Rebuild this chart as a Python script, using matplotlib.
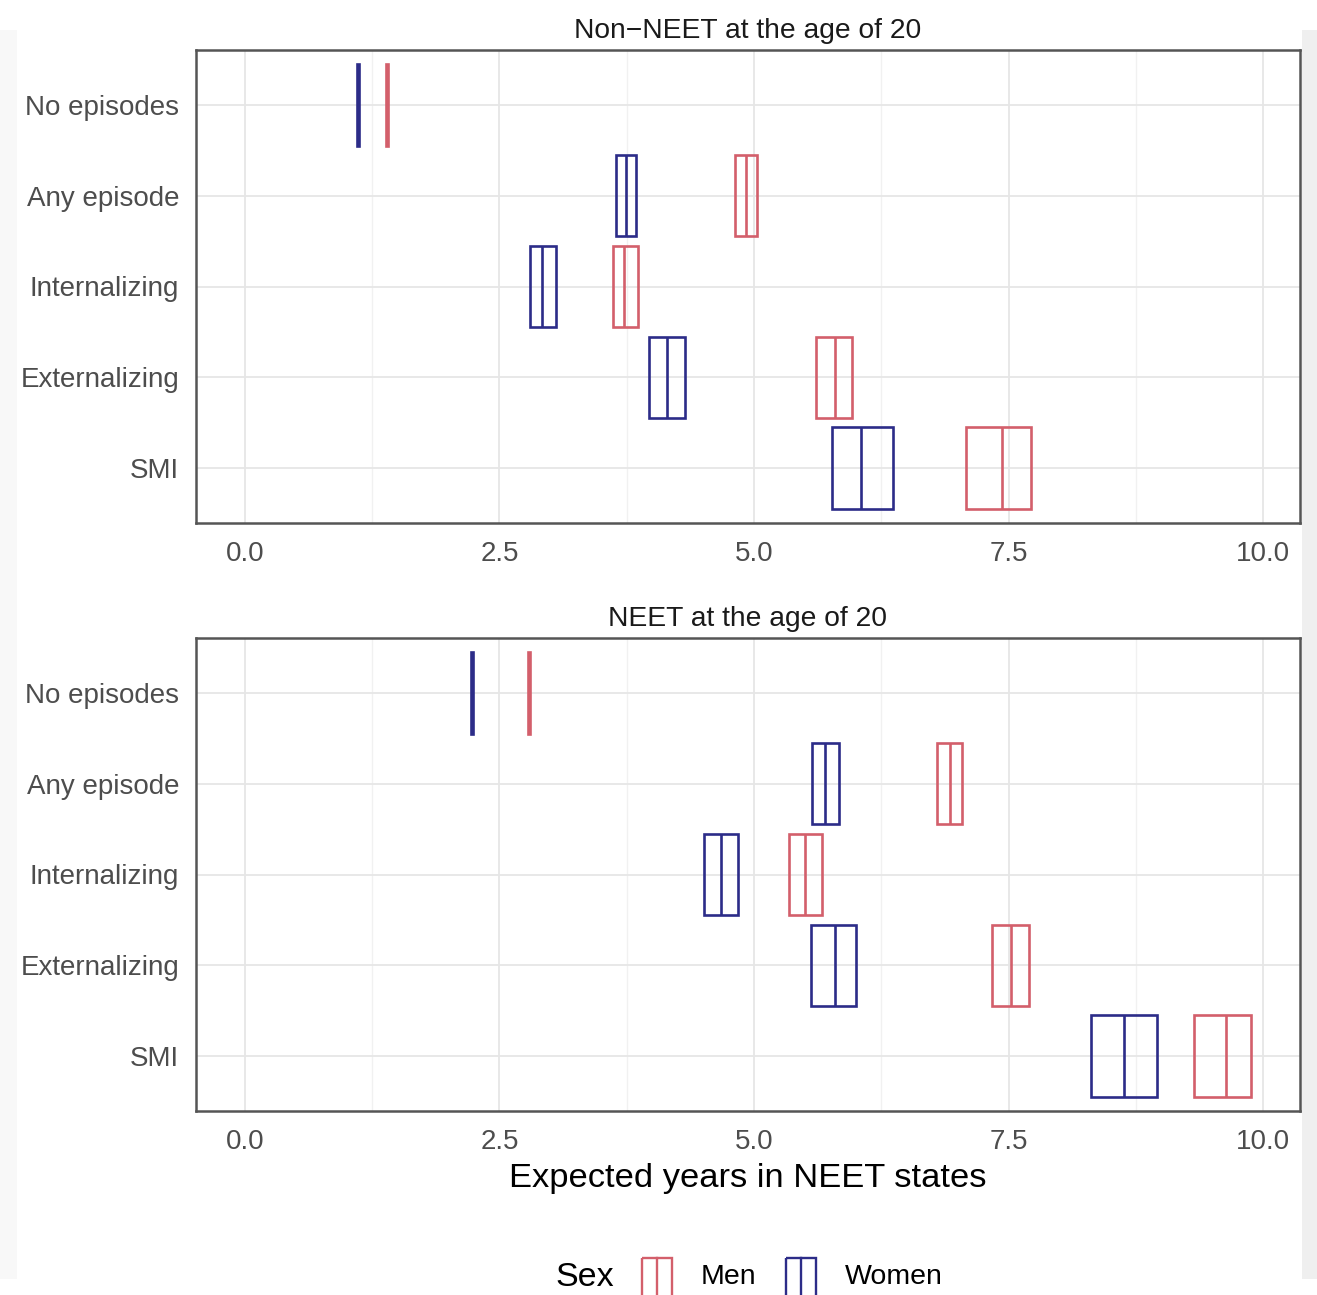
import matplotlib
matplotlib.use("Agg")
import matplotlib.pyplot as plt
from matplotlib.patches import Rectangle
from matplotlib.ticker import MultipleLocator

plt.rcParams["font.family"] = ["Liberation Sans", "DejaVu Sans"]

GROUPS = ["No episodes", "Any episode", "Internalizing", "Externalizing", "SMI"]
PANELS = ["Non\u2212NEET at the age of 20", "NEET at the age of 20"]

# expected years: (lower, estimate, upper) per group
NONNEET_WOMEN_LO = [1.10, 3.64, 2.80, 3.97, 5.76]
NONNEET_WOMEN_MID = [1.11, 3.74, 2.92, 4.14, 6.05]
NONNEET_WOMEN_HI = [1.12, 3.84, 3.05, 4.32, 6.36]
NONNEET_MEN_LO = [1.39, 4.81, 3.61, 5.61, 7.08]
NONNEET_MEN_MID = [1.40, 4.92, 3.72, 5.79, 7.43]
NONNEET_MEN_HI = [1.41, 5.03, 3.86, 5.96, 7.72]

NEET_WOMEN_LO = [2.22, 5.57, 4.51, 5.56, 8.31]
NEET_WOMEN_MID = [2.23, 5.70, 4.67, 5.79, 8.63]
NEET_WOMEN_HI = [2.24, 5.83, 4.84, 6.00, 8.96]
NEET_MEN_LO = [2.78, 6.80, 5.34, 7.34, 9.32]
NEET_MEN_MID = [2.79, 6.92, 5.50, 7.52, 9.63]
NEET_MEN_HI = [2.80, 7.04, 5.67, 7.70, 9.88]

SEX_LABELS = ["Men", "Women"]
COLORS = {"Men": "#d35f6b", "Women": "#2c2c88"}

W, H = 1317, 1295
fig = plt.figure(figsize=(W / 100, H / 100), dpi=100)
fig.patch.set_facecolor("white")

# faint side strips
fig.add_artist(Rectangle((0, 1 - 1279 / H), 17 / W, 1249 / H,
                         transform=fig.transFigure, color="#f8f8f8", lw=0))
fig.add_artist(Rectangle((1302 / W, 1 - 1279 / H), 15 / W, 1249 / H,
                         transform=fig.transFigure, color="#efefef", lw=0))


def crossbar(ax, lo, mid, hi, color, height=0.9, lw=1.9):
    for i, (a, m, b) in enumerate(zip(lo, mid, hi)):
        ax.add_patch(Rectangle((a, i - height / 2), b - a, height,
                               facecolor="none", edgecolor=color, lw=lw, zorder=3))
        ax.plot([m, m], [i - height / 2, i + height / 2], color=color, lw=lw,
                solid_capstyle="butt", zorder=3)


panel_data = [
    (NONNEET_MEN_LO, NONNEET_MEN_MID, NONNEET_MEN_HI,
     NONNEET_WOMEN_LO, NONNEET_WOMEN_MID, NONNEET_WOMEN_HI),
    (NEET_MEN_LO, NEET_MEN_MID, NEET_MEN_HI,
     NEET_WOMEN_LO, NEET_WOMEN_MID, NEET_WOMEN_HI),
]
tops = [50, 638]

for title, top, data in zip(PANELS, tops, panel_data):
    ax = fig.add_axes([196 / W, 1 - (top + 473) / H, 1104 / W, 473 / H])
    mlo, mmid, mhi, wlo, wmid, whi = data
    crossbar(ax, mlo, mmid, mhi, COLORS["Men"])
    crossbar(ax, wlo, wmid, whi, COLORS["Women"])

    ax.set_xlim(-0.48, 10.36)
    ax.set_ylim(len(GROUPS) - 0.4, -0.6)
    ax.xaxis.set_minor_locator(MultipleLocator(1.25))
    ax.set_xticks([0, 2.5, 5, 7.5, 10])
    ax.set_xticklabels(["0.0", "2.5", "5.0", "7.5", "10.0"])
    ax.set_yticks(range(len(GROUPS)))
    ax.set_yticklabels(GROUPS)
    ax.grid(True, which="major", color="#e6e6e6", lw=1.3, zorder=0)
    ax.grid(True, which="minor", axis="x", color="#f1f1f1", lw=1.0, zorder=0)
    ax.set_axisbelow(True)
    ax.tick_params(axis="both", which="major", length=0,
                   labelcolor="#4d4d4d", labelsize=20)
    ax.tick_params(axis="y", pad=12)
    ax.tick_params(axis="x", pad=13)
    ax.tick_params(axis="both", which="minor", length=0)
    for s in ax.spines.values():
        s.set_color("#555555")
        s.set_linewidth(1.8)
    ax.set_title(title, fontsize=20.3, color="#1a1a1a", pad=9)

ax.set_xlabel("Expected years in NEET states", fontsize=24.8, color="black", labelpad=6)

# legend drawn in pixel space below the panels
lg = fig.add_axes([0, 0, 1, 60 / H])
lg.set_xlim(0, W)
lg.set_ylim(H, H - 60)
lg.axis("off")
lg.text(555, 1277, "Sex", fontsize=24.5, va="center", ha="left")
for x0, label in zip([642, 786], SEX_LABELS):
    c = COLORS[label]
    lg.add_patch(Rectangle((x0, 1258), 30, 45, facecolor="none", edgecolor=c, lw=1.7))
    lg.plot([x0 + 15, x0 + 15], [1258, 1303], color=c, lw=1.7)
    lg.text(x0 + 59, 1277, label, fontsize=20.5, va="center", ha="left")

fig.savefig("out.png", dpi=100)
